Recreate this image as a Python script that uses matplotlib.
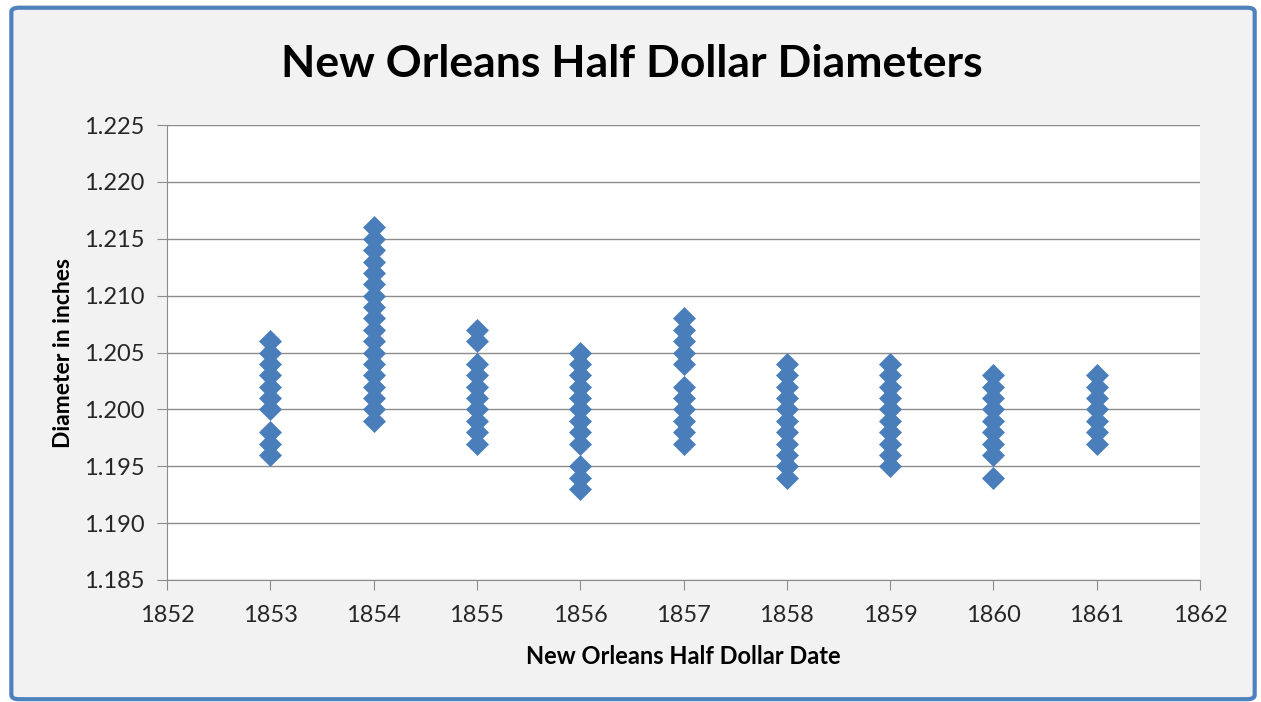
import matplotlib.pyplot as plt
from matplotlib.patches import FancyBboxPatch

# Distinct diameters (inches) observed for each mint year
years = [1853, 1854, 1855, 1856, 1857, 1858, 1859, 1860, 1861]
diam_1853 = [1.206, 1.205, 1.204, 1.203, 1.202, 1.201, 1.200, 1.198, 1.197, 1.196]
diam_1854 = [1.216, 1.215, 1.214, 1.213, 1.212, 1.211, 1.210, 1.209, 1.208,
             1.207, 1.206, 1.205, 1.204, 1.203, 1.202, 1.201, 1.200, 1.199]
diam_1855 = [1.207, 1.206, 1.204, 1.203, 1.202, 1.201, 1.200, 1.199, 1.198, 1.197]
diam_1856 = [1.205, 1.204, 1.203, 1.202, 1.201, 1.200, 1.199, 1.198, 1.197,
             1.195, 1.194, 1.193]
diam_1857 = [1.208, 1.207, 1.206, 1.205, 1.204, 1.202, 1.201, 1.200, 1.199, 1.198, 1.197]
diam_1858 = [1.204, 1.203, 1.202, 1.201, 1.200, 1.199, 1.198, 1.197, 1.196, 1.195, 1.194]
diam_1859 = [1.204, 1.203, 1.202, 1.201, 1.200, 1.199, 1.198, 1.197, 1.196, 1.195]
diam_1860 = [1.203, 1.202, 1.201, 1.200, 1.199, 1.198, 1.197, 1.196, 1.194]
diam_1861 = [1.203, 1.202, 1.201, 1.200, 1.199, 1.198, 1.197]
diameters = [diam_1853, diam_1854, diam_1855, diam_1856, diam_1857,
             diam_1858, diam_1859, diam_1860, diam_1861]

plt.rcParams['font.family'] = ['Lato', 'DejaVu Sans']

fig = plt.figure(figsize=(12.61, 7.02), dpi=100)
fig.patch.set_facecolor('white')

# outer chart frame
frame = FancyBboxPatch((0.009, 0.004), 0.986, 0.985, boxstyle='round,pad=0,rounding_size=0.006',
                       transform=fig.transFigure, facecolor='#f2f2f2',
                       edgecolor='#4f81bd', linewidth=3, zorder=-10)
fig.patches.append(frame)

ax = fig.add_axes([167 / 1261, 1 - 580 / 702, (1200 - 167) / 1261, (580 - 125) / 702])
ax.set_facecolor('white')

for yr, vals in zip(years, diameters):
    ax.plot([yr] * len(vals), vals, linestyle='none', marker='D', markersize=11,
            color='#4a7ebb', markeredgecolor='#4a7ebb', markeredgewidth=0.5, zorder=3)

ax.set_xlim(1852, 1862)
ax.set_ylim(1.185, 1.225)
ax.set_xticks(range(1852, 1863))
ax.set_yticks([1.185 + 0.005 * i for i in range(9)])
ax.yaxis.set_major_formatter(plt.FormatStrFormatter('%.3f'))
ax.grid(axis='y', color='#8c8c8c', linewidth=1)
ax.set_axisbelow(True)
for s in ['top', 'right']:
    ax.spines[s].set_visible(False)
for s in ['left', 'bottom']:
    ax.spines[s].set_color('#8c8c8c')
ax.tick_params(axis='both', direction='out', length=7, color='#8c8c8c',
               labelsize=17, labelcolor='#262626')
ax.tick_params(axis='y', pad=9)
ax.tick_params(axis='x', pad=11)

ax.set_xlabel('New Orleans Half Dollar Date', fontsize=17, fontweight='bold', labelpad=14)
ax.set_ylabel('Diameter in inches', fontsize=16.5, fontweight='bold', labelpad=7)
fig.text(632 / 1261, 1 - 64 / 702, 'New Orleans Half Dollar Diameters', ha='center', va='center',
         fontsize=32, fontweight='bold')

fig.savefig('out.png', dpi=100)
